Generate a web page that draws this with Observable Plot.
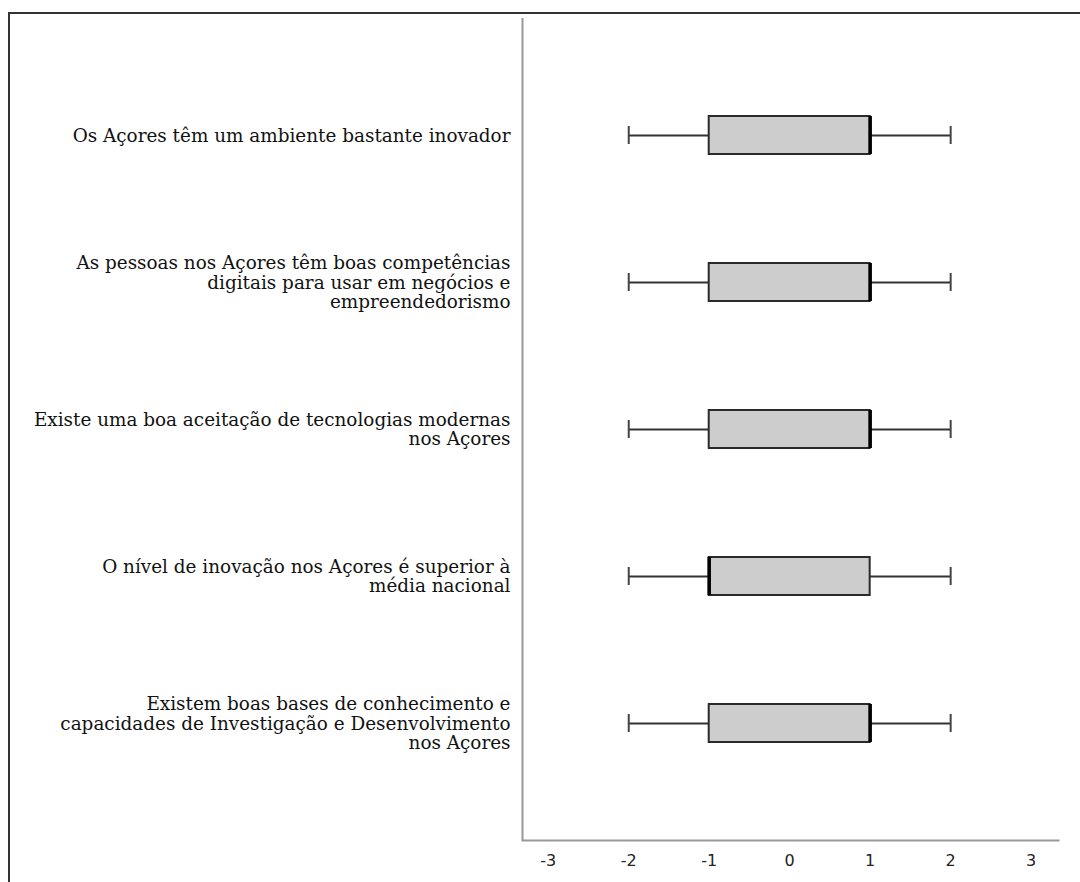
<!DOCTYPE html>
<html>
<head>
<meta charset="utf-8">
<script src="https://cdn.jsdelivr.net/npm/d3@7"></script>
<script src="https://cdn.jsdelivr.net/npm/@observablehq/plot@0.6"></script>
<style>
  html, body { margin: 0; padding: 0; background: #fff; }
  #wrap { position: relative; width: 1080px; height: 882px; overflow: hidden; }
  #border { position: absolute; left: 8px; top: 12px; width: 1200px; height: 1000px;
            border-top: 2px solid #333; border-left: 2px solid #333; box-sizing: border-box; }
  #chart { position: absolute; left: 0; top: 0; }
</style>
</head>
<body>
<div id="wrap"><div id="border"></div><div id="chart"></div></div>
<script>
const categories = [
  "Os Açores têm um ambiente bastante inovador",
  "As pessoas nos Açores têm boas competências\ndigitais para usar em negócios e\nempreendedorismo",
  "Existe uma boa aceitação de tecnologias modernas\nnos Açores",
  "O nível de inovação nos Açores é superior à\nmédia nacional",
  "Existem boas bases de conhecimento e\ncapacidades de Investigação e Desenvolvimento\nnos Açores"
];
const whiskerLow  = [-2, -2, -2, -2, -2];
const q1          = [-1, -1, -1, -1, -1];
const median      = [ 1,  1,  1, -1,  1];
const q3          = [ 1,  1,  1,  1,  1];
const whiskerHigh = [ 2,  2,  2,  2,  2];
const xTicks = [-3, -2, -1, 0, 1, 2, 3];

const data = categories.map((c, i) => ({
  cat: c, lo: whiskerLow[i], q1: q1[i], med: median[i], q3: q3[i], hi: whiskerHigh[i]
}));

const xDomain = [-3.32, 3.34];

const chart = Plot.plot({
  width: 1080,
  height: 882,
  marginLeft: 522,
  marginRight: 22,
  marginTop: 18,
  marginBottom: 42,
  style: { background: "transparent", color: "#000" },
  x: { domain: xDomain },
  y: { domain: categories, paddingInner: 0.742, paddingOuter: 0.657 },
  marks: [
    Plot.ruleY(data, { y: "cat", x1: "lo", x2: "q1", stroke: "#333", strokeWidth: 1.8 }),
    Plot.ruleY(data, { y: "cat", x1: "q3", x2: "hi", stroke: "#333", strokeWidth: 1.8 }),
    Plot.tickX(data, { x: "lo", y: "cat", stroke: "#444", strokeWidth: 2, insetTop: 10, insetBottom: 10 }),
    Plot.tickX(data, { x: "hi", y: "cat", stroke: "#444", strokeWidth: 2, insetTop: 10, insetBottom: 10 }),
    Plot.barX(data, { x1: "q1", x2: "q3", y: "cat", fill: "#cdcdcd", stroke: "#2a2a2a", strokeWidth: 2 }),
    Plot.tickX(data, { x: "med", y: "cat", stroke: "#000", strokeWidth: 3.5 }),
    Plot.ruleX([xDomain[0]], { stroke: "#999", strokeWidth: 2 }),
    Plot.frame({ anchor: "bottom", stroke: "#999", strokeWidth: 2 }),
    Plot.axisY({ tickSize: 0, tickPadding: 12, label: null, fontFamily: "DejaVu Serif",
                 fontSize: 18.4, lineHeight: 1.05, fill: "#111" }),
    Plot.axisX({ ticks: xTicks, tickFormat: d => String(d), tickSize: 0, tickPadding: 14, label: null,
                 fontFamily: "DejaVu Sans", fontSize: 16, fill: "#222" })
  ]
});
document.getElementById("chart").appendChild(chart);
</script>
</body>
</html>
